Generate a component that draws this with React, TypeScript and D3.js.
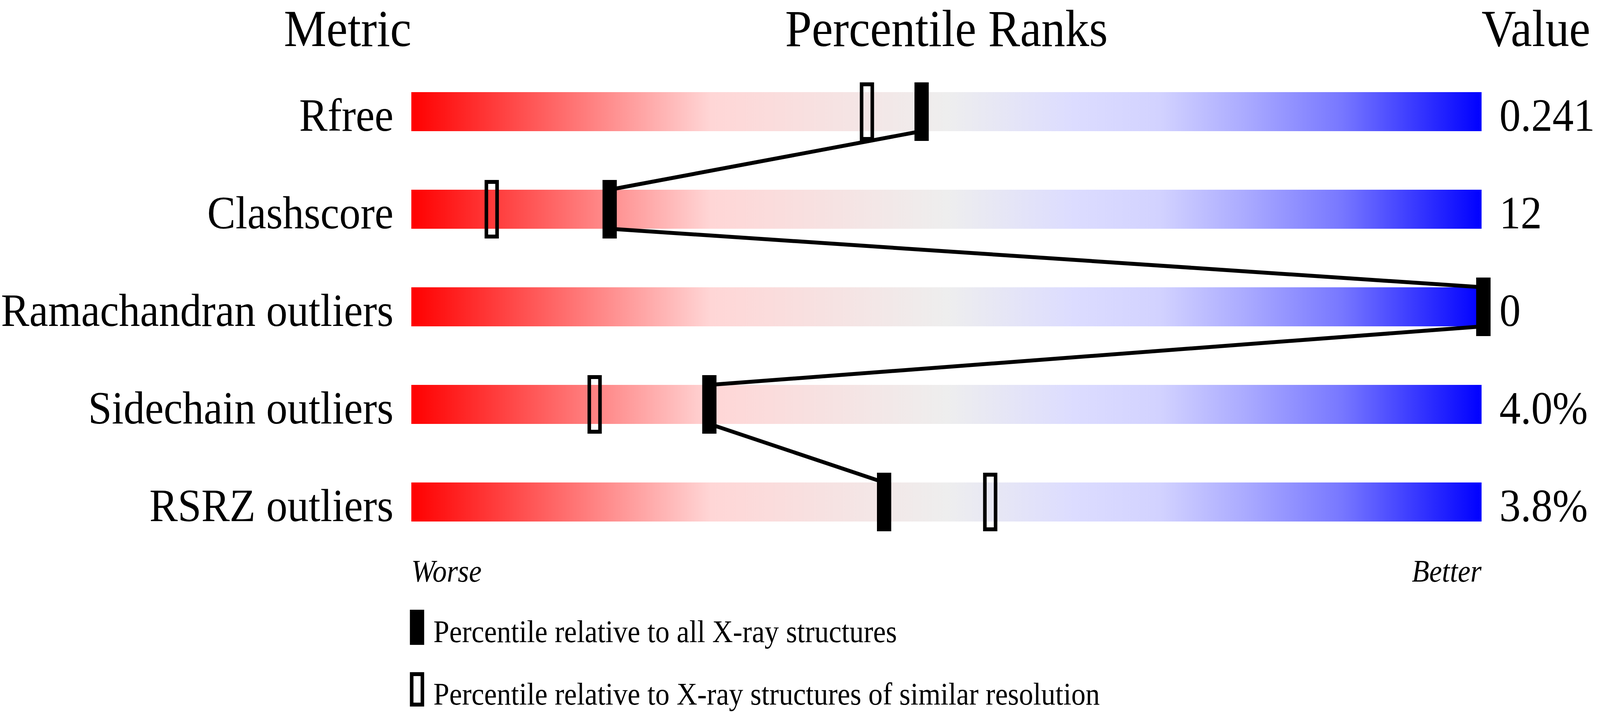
import React from 'react';
import * as d3 from 'd3';

const metrics = ['Rfree', 'Clashscore', 'Ramachandran outliers', 'Sidechain outliers', 'RSRZ outliers'];
const values = ['0.241', '12', '0', '4.0%', '3.8%'];
// percentile relative to all X-ray structures (filled marker)
const absolutePct = [47.6, 18.5, 100, 27.8, 44.1];
// percentile relative to structures of similar resolution (open marker)
const relativePct = [42.5, 7.5, 100, 17.1, 54.0];

const legendLabels = [
  'Percentile relative to all X-ray structures',
  'Percentile relative to X-ray structures of similar resolution',
];

const gradientStops: [number, string][] = [
  [0, '#ff0000'],
  [0.28, '#ffd6d6'],
  [0.5, '#eeeeee'],
  [0.62, '#dcdcff'],
  [0.7, '#d2d2ff'],
  [0.78, '#aaaaff'],
  [0.87, '#7777ff'],
  [1, '#0000ff'],
];

// drawing coordinates; the svg is stretched to whatever the viewport is
const W = 4485;
const H = 1824;
const barX0 = 1153;
const barX1 = 4153;
const barH = 100;
const markW = 40;
const markH = 150;
const font = '"Liberation Serif", "Times New Roman", serif';

export default function App() {
  const x = d3.scaleLinear().domain([0, 100]).range([barX0, barX1 + 5]);
  const y = d3.scalePoint<string>().domain(metrics).range([286, 1286]);

  const rows = metrics.map((m, i) => ({
    name: m,
    value: values[i],
    cy: y(m) as number,
    abs: absolutePct[i],
    rel: relativePct[i],
  }));

  // zig-zag connecting filled markers: bottom of one bar to top of the next
  const line = d3.line<[number, number]>();
  const links = rows.slice(0, -1).map((r, i) => {
    const n = rows[i + 1];
    return line([
      [x(r.abs), r.cy + barH / 2],
      [x(n.abs), n.cy - barH / 2],
    ]) as string;
  });

  return (
    <svg
      viewBox={`0 0 ${W} ${H}`}
      preserveAspectRatio="none"
      style={{ position: 'fixed', left: 0, top: 0, width: '100vw', height: '100vh', background: '#fff' }}
      fontFamily={font}
    >
      <defs>
        <linearGradient id="rank" x1="0" x2="1" y1="0" y2="0">
          {gradientStops.map(([o, c]) => (
            <stop key={o} offset={o} stopColor={c} />
          ))}
        </linearGradient>
      </defs>

      <text x={barX0} y={118} fontSize={134} textAnchor="end">Metric</text>
      <text x={(barX0 + barX1) / 2} y={118} fontSize={134} textAnchor="middle">Percentile Ranks</text>
      <text x={barX1} y={118} fontSize={134}>Value</text>

      {rows.map((r) => (
        <g key={r.name}>
          <rect x={barX0} y={r.cy - barH / 2} width={barX1 - barX0} height={barH} fill="url(#rank)" />
          <text x={barX0 - 50} y={r.cy + barH / 2 - 1} fontSize={119} textAnchor="end">{r.name}</text>
          <text x={barX1 + 50} y={r.cy + barH / 2 - 1} fontSize={119}>{r.value}</text>
        </g>
      ))}

      {links.map((d, i) => (
        <path key={i} d={d} fill="none" stroke="#000" strokeWidth={10} />
      ))}

      {rows.map((r) => (
        <rect
          key={'o' + r.name}
          x={x(r.rel) - markW / 2 + 5}
          y={r.cy - markH / 2 + 5}
          width={markW - 10}
          height={markH - 10}
          fill="none"
          stroke="#000"
          strokeWidth={10}
        />
      ))}
      {rows.map((r) => (
        <rect
          key={'f' + r.name}
          x={x(r.abs) - markW / 2}
          y={r.cy - markH / 2}
          width={markW}
          height={markH}
          fill="#000"
        />
      ))}

      <text x={barX0} y={1490} fontSize={80} fontStyle="italic">Worse</text>
      <text x={barX1} y={1490} fontSize={80} fontStyle="italic" textAnchor="end">Better</text>

      <rect x={1149} y={1562} width={40} height={90} fill="#000" />
      <text x={1215} y={1645} fontSize={80}>{legendLabels[0]}</text>
      <rect x={1154} y={1727} width={30} height={78} fill="none" stroke="#000" strokeWidth={10} />
      <text x={1215} y={1805} fontSize={80}>{legendLabels[1]}</text>
    </svg>
  );
}
